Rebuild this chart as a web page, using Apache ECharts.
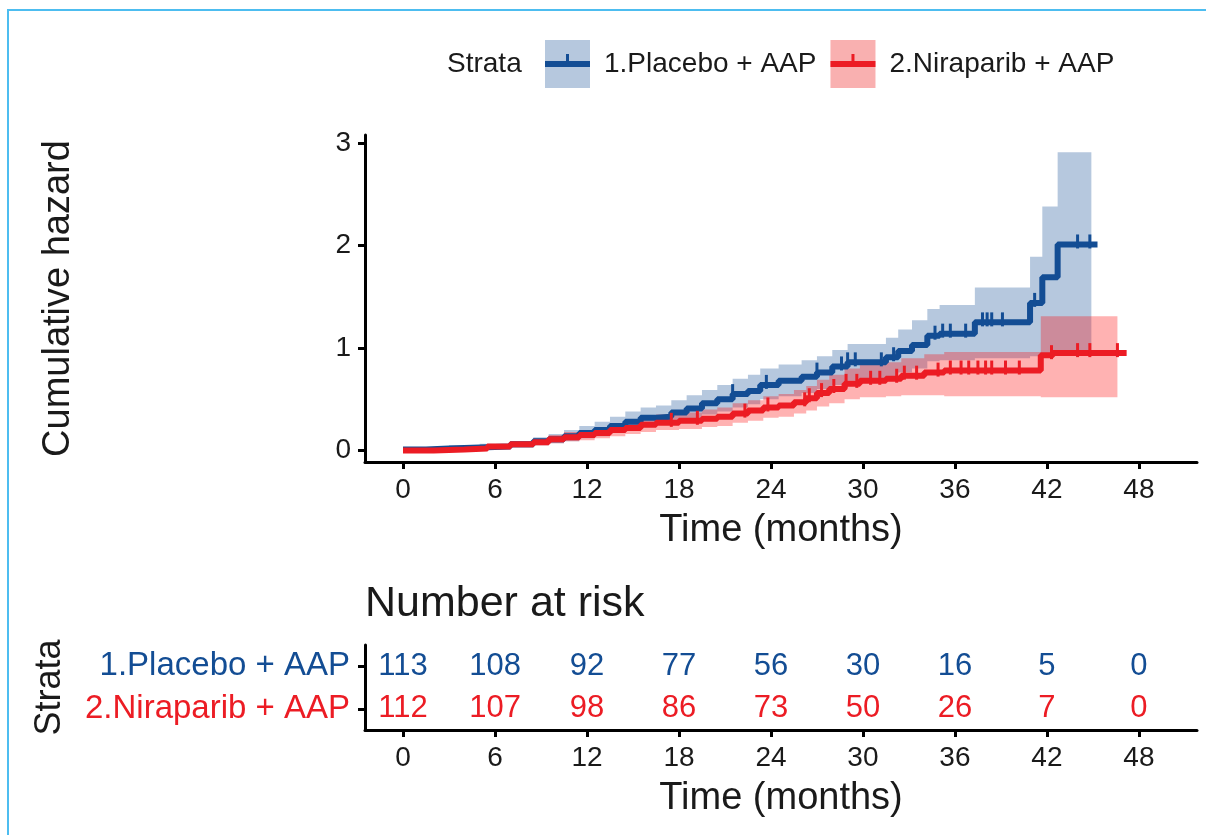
<!DOCTYPE html>
<html><head><meta charset="utf-8">
<script src="https://cdn.jsdelivr.net/npm/echarts@6/dist/echarts.min.js"></script>
<style>
html,body{margin:0;padding:0;background:#fff;}
#c{width:1206px;height:835px;position:absolute;left:0;top:0;}
#frame{position:absolute;left:7px;top:9px;width:1199px;height:826px;border-left:2px solid #4dbdf0;border-top:2px solid #4dbdf0;pointer-events:none;box-sizing:border-box;}
</style></head><body>
<div id="c"></div><div id="frame"></div>
<script>
const groupNames = ['1.Placebo + AAP', '2.Niraparib + AAP'];
const xTicks = [0, 6, 12, 18, 24, 30, 36, 42, 48];
const yTicks = [0, 1, 2, 3];

const placeboTime = [0, 1.5, 3, 5, 7, 8.5, 9.5, 10.5, 11.5, 12.5, 13.5, 14.5, 15.5, 16.5, 17.5, 18.5, 19.5, 20.5, 21.5, 22.5, 23.3, 24.5, 26, 27, 28, 29, 31.5, 32.3, 33.2, 34.2, 35.0, 37.3, 40.9, 41.7, 42.7];
const placeboHaz  = [0.01, 0.02, 0.03, 0.04, 0.06, 0.09, 0.11, 0.14, 0.17, 0.20, 0.24, 0.28, 0.32, 0.33, 0.37, 0.41, 0.46, 0.50, 0.55, 0.58, 0.64, 0.68, 0.72, 0.76, 0.82, 0.86, 0.91, 0.97, 1.03, 1.12, 1.14, 1.25, 1.44, 1.69, 2.01];
const placeboLow  = [0.00, 0.005, 0.01, 0.015, 0.03, 0.05, 0.07, 0.09, 0.12, 0.14, 0.17, 0.20, 0.24, 0.25, 0.28, 0.31, 0.35, 0.38, 0.42, 0.45, 0.50, 0.53, 0.56, 0.60, 0.64, 0.68, 0.72, 0.76, 0.80, 0.87, 0.88, 0.90, 0.92, 0.93, 0.94];
const placeboHigh = [0.02, 0.035, 0.05, 0.065, 0.09, 0.13, 0.16, 0.20, 0.24, 0.28, 0.33, 0.38, 0.42, 0.44, 0.49, 0.54, 0.59, 0.64, 0.70, 0.74, 0.80, 0.84, 0.88, 0.92, 0.98, 1.04, 1.10, 1.18, 1.27, 1.38, 1.42, 1.59, 1.89, 2.38, 2.91];
const placeboBandEnd = 44.9;
const placeboLineEnd = 45.3;
const placeboCensor = [21.5, 23.7, 27.0, 28.6, 29.0, 29.5, 31.2, 32.0, 34.7, 35.2, 35.7, 36.7, 37.8, 38.1, 38.4, 39.1, 41.2, 44.0, 44.8];

const niraTime = [0, 2, 4, 5.5, 7, 8.5, 9.5, 10.5, 11.5, 12.5, 13.5, 14.5, 15.5, 16.5, 18, 19.5, 20.5, 21.5, 22.5, 23.5, 24.5, 25.5, 26.3, 27, 27.8, 28.8, 29.8, 31.5, 32.5, 34, 35.3, 41.6, 42.4];
const niraHaz  = [0.00, 0.01, 0.02, 0.04, 0.06, 0.08, 0.11, 0.13, 0.15, 0.17, 0.20, 0.22, 0.25, 0.27, 0.29, 0.31, 0.33, 0.36, 0.39, 0.42, 0.44, 0.47, 0.51, 0.56, 0.60, 0.65, 0.68, 0.70, 0.73, 0.76, 0.78, 0.93, 0.95];
const niraLow  = [0.00, 0.00, 0.005, 0.015, 0.03, 0.05, 0.07, 0.09, 0.10, 0.12, 0.14, 0.16, 0.18, 0.20, 0.21, 0.23, 0.24, 0.27, 0.29, 0.32, 0.33, 0.36, 0.39, 0.43, 0.46, 0.50, 0.52, 0.53, 0.54, 0.54, 0.53, 0.52, 0.52];
const niraHigh = [0.01, 0.02, 0.04, 0.06, 0.09, 0.12, 0.15, 0.18, 0.20, 0.23, 0.26, 0.29, 0.32, 0.35, 0.37, 0.40, 0.42, 0.46, 0.49, 0.53, 0.55, 0.59, 0.63, 0.69, 0.74, 0.80, 0.84, 0.86, 0.90, 0.94, 0.96, 1.31, 1.31];
const niraBandEnd = 46.6;
const niraLineEnd = 47.2;
const niraCensor = [17.5, 19.2, 22.3, 23.8, 26.2, 26.5, 27.3, 28.1, 28.9, 29.6, 30.5, 31.1, 32.2, 32.7, 33.5, 34.9, 35.7, 36.4, 36.9, 37.5, 38.0, 38.4, 39.3, 40.2, 42.3, 44.0, 44.8, 46.6];

const riskTimes = [0, 6, 12, 18, 24, 30, 36, 42, 48];
const riskPlacebo = [113, 108, 92, 77, 56, 30, 16, 5, 0];
const riskNira = [112, 107, 98, 86, 73, 50, 26, 7, 0];

const FONT = 'Liberation Sans, Arial, Helvetica, sans-serif';
const BLUE = '#134d94';
const RED = '#ec1c24';
const TXT = '#1a1a1a';

function stepAt(times, vals, t) {
  let v = vals[0];
  for (let i = 0; i < times.length; i++) { if (times[i] <= t) v = vals[i]; }
  return v;
}
function lineData(times, vals, endT) {
  const d = times.map((t, i) => [t, vals[i]]);
  d.push([endT, vals[vals.length - 1]]);
  return d;
}
function bandSeries(name, times, lo, hi, endT, color) {
  return {
    type: 'custom', name: name, xAxisIndex: 0, yAxisIndex: 0, silent: true, z: 1,
    data: [[times[0], lo[0]]],
    renderItem: function (params, api) {
      const up = [], dn = [];
      for (let i = 0; i < times.length; i++) {
        const t1 = i < times.length - 1 ? times[i + 1] : endT;
        up.push(api.coord([times[i], hi[i]]), api.coord([t1, hi[i]]));
        dn.push(api.coord([times[i], lo[i]]), api.coord([t1, lo[i]]));
      }
      return { type: 'polygon', shape: { points: up.concat(dn.reverse()) }, style: { fill: color } };
    }
  };
}
function censorSeries(times, vals, cens, color) {
  return {
    type: 'scatter', xAxisIndex: 0, yAxisIndex: 0, silent: true, z: 4,
    symbol: 'rect', symbolSize: [3, 14], symbolOffset: [0, -3],
    itemStyle: { color: color, opacity: 1 },
    data: cens.map(t => [t, stepAt(times, vals, t)])
  };
}
function riskSeries(name, counts, color) {
  return {
    type: 'scatter', xAxisIndex: 1, yAxisIndex: 1, silent: true,
    symbol: 'circle', symbolSize: 1, itemStyle: { color: 'rgba(0,0,0,0)', opacity: 1 },
    data: riskTimes.map((t, i) => [t, name, counts[i]]),
    label: { show: true, position: 'inside', opacity: 1, formatter: p => String(p.value[2]), fontSize: 31, color: color, fontFamily: FONT }
  };
}

const xMin = -2.48, xMax = 51.79;
const keyBox = 'path://M0 0H45V48H0Z M54 0 L54 48';
const keyLine = 'path://M0 0 L0 0 M54 48 L54 48 M0 21H21V14H24V21H45V27H0Z';

function xAxisDef(gi) {
  return {
    type: 'value', gridIndex: gi, min: xMin, max: xMax,
    axisLine: { show: true, onZero: false, lineStyle: { color: '#000', width: 3 } },
    axisTick: { show: true, length: 7, lineStyle: { color: '#000', width: 3 }, customValues: xTicks },
    axisLabel: { customValues: xTicks, fontSize: 28, margin: 14, color: TXT, fontFamily: FONT },
    splitLine: { show: false },
    name: 'Time (months)', nameLocation: 'middle', nameGap: 50,
    nameTextStyle: { fontSize: 38, color: TXT, fontFamily: FONT }
  };
}

const chart = echarts.init(document.getElementById('c'), null, { renderer: 'canvas' });
chart.setOption({
  animation: false,
  backgroundColor: '#fff',
  textStyle: { fontFamily: FONT },
  title: [
    { text: 'Strata', left: 447, top: 50, padding: 0, textStyle: { fontSize: 28, fontWeight: 'normal', color: TXT, fontFamily: FONT } },
    { text: 'Number at risk', left: 365, top: 583, padding: 0, textStyle: { fontSize: 43, fontWeight: 'normal', color: TXT, fontFamily: FONT } }
  ],
  legend: [
    {
      left: 545, top: 40, padding: 0, itemWidth: 54, itemHeight: 48, itemGap: 14, selectedMode: false, symbolKeepAspect: false,
      textStyle: { fontSize: 28, color: TXT, fontFamily: FONT }, itemStyle: { borderWidth: 0 },
      data: [
        { name: groupNames[0], icon: keyBox, itemStyle: { color: '#b6c8de', borderWidth: 0 } },
        { name: groupNames[1], icon: keyBox, itemStyle: { color: '#f9b0b0', borderWidth: 0 } }
      ]
    },
    {
      left: 545, top: 40, padding: 0, itemWidth: 54, itemHeight: 48, itemGap: 14, selectedMode: false, symbolKeepAspect: false, z: 6,
      textStyle: { fontSize: 28, color: 'rgba(0,0,0,0)', fontFamily: FONT }, itemStyle: { borderWidth: 0 },
      data: [
        { name: groupNames[0], icon: keyLine, itemStyle: { color: BLUE, borderWidth: 0 } },
        { name: groupNames[1], icon: keyLine, itemStyle: { color: RED, borderWidth: 0 } }
      ]
    }
  ],
  grid: [
    { left: 365, right: 9, top: 135, height: 327 },
    { left: 365, right: 9, top: 645, height: 85 }
  ],
  xAxis: [xAxisDef(0), xAxisDef(1)],
  yAxis: [
    {
      type: 'value', gridIndex: 0, min: -0.1122, max: 3.078,
      axisLine: { show: true, onZero: false, lineStyle: { color: '#000', width: 3 } },
      axisTick: { show: true, length: 7, lineStyle: { color: '#000', width: 3 }, customValues: yTicks },
      axisLabel: { customValues: yTicks, fontSize: 28, margin: 14, color: TXT, fontFamily: FONT },
      splitLine: { show: false },
      name: 'Cumulative hazard', nameLocation: 'middle', nameGap: 287,
      nameTextStyle: { fontSize: 38, color: TXT, fontFamily: FONT }
    },
    {
      type: 'category', gridIndex: 1, data: [groupNames[1], groupNames[0]],
      axisLine: { show: true, onZero: false, lineStyle: { color: '#000', width: 3 } },
      axisTick: { show: true, alignWithLabel: true, interval: 0, length: 7, lineStyle: { color: '#000', width: 3 } },
      axisLabel: { interval: 0, fontSize: 33, margin: 15, fontFamily: FONT, color: v => (v === groupNames[0] ? BLUE : RED) },
      splitLine: { show: false },
      name: 'Strata', nameLocation: 'middle', nameGap: 297,
      nameTextStyle: { fontSize: 36, color: TXT, fontFamily: FONT }
    }
  ],
  series: [
    bandSeries('bandPlacebo', placeboTime, placeboLow, placeboHigh, placeboBandEnd, 'rgba(12,72,145,0.3)'),
    bandSeries('bandNira', niraTime, niraLow, niraHigh, niraBandEnd, 'rgba(255,0,0,0.3)'),
    {
      type: 'line', name: groupNames[0], xAxisIndex: 0, yAxisIndex: 0, step: 'end', symbol: 'none', z: 3,
      lineStyle: { width: 6, color: BLUE }, itemStyle: { color: BLUE },
      data: lineData(placeboTime, placeboHaz, placeboLineEnd)
    },
    {
      type: 'line', name: groupNames[1], xAxisIndex: 0, yAxisIndex: 0, step: 'end', symbol: 'none', z: 3,
      lineStyle: { width: 6, color: RED }, itemStyle: { color: RED },
      data: lineData(niraTime, niraHaz, niraLineEnd)
    },
    censorSeries(placeboTime, placeboHaz, placeboCensor, BLUE),
    censorSeries(niraTime, niraHaz, niraCensor, RED),
    riskSeries(groupNames[0], riskPlacebo, BLUE),
    riskSeries(groupNames[1], riskNira, RED)
  ]
});
</script>
</body></html>
